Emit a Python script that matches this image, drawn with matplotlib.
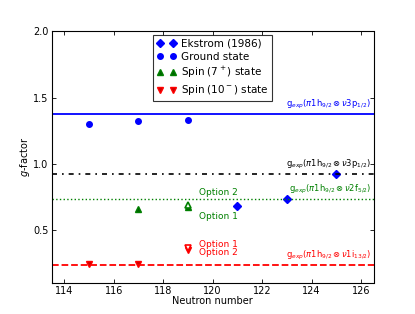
import numpy as np
import matplotlib.pyplot as plt

# =====================================================
# DATA
# =====================================================

ekstrom_n = [121, 123, 125]
ekstrom_g = [0.68, 0.732, 0.922]

ground_n = [115, 117, 119]
ground_g = [1.30, 1.32, 1.333]

spin7_n = [117, 119]
spin7_g = [0.66, 0.675]
spin7_open_n = [119]
spin7_open_g = [0.69]

spin10_n = [115, 117, 119]
spin10_g = [0.24, 0.24, 0.35]
spin10_open_n = [119]
spin10_open_g = [0.36]

g_p12 = 1.376
g_p12_ekstrom = 0.922
g_f52 = 0.732
g_i132 = 0.235

# =====================================================
# FIGURE
# =====================================================

plt.rcParams["font.size"] = 7
plt.rcParams["xtick.direction"] = "in"
plt.rcParams["ytick.direction"] = "in"
plt.rcParams["xtick.top"] = True
plt.rcParams["ytick.right"] = True

fig = plt.figure(figsize=(4.15, 3.14), dpi=100)
ax = fig.add_subplot(111)
fig.subplots_adjust(left=0.125, right=0.9, bottom=0.1, top=0.9)

ax.plot(ekstrom_n, ekstrom_g, "D", color="blue", ms=4,
        mec="blue", label="Ekstrom (1986)")
ax.plot(ground_n, ground_g, "o", color="blue", ms=4,
        mec="blue", label="Ground state")
ax.plot(spin7_n, spin7_g, "^", color="darkgreen", ms=4,
        mec="green", label="Spin ($7^+$) state")
ax.plot(spin10_n, spin10_g, "v", color="#cc0000", ms=4,
        mec="red", label="Spin ($10^-$) state")
ax.plot(spin7_open_n, spin7_open_g, "^", mfc="white", mec="green",
        mew=1.2, ms=5)
ax.plot(spin10_open_n, spin10_open_g, "v", mfc="white", mec="red",
        mew=1.2, ms=5)

ax.axhline(g_p12, color="blue", lw=1.3, ls="-")
ax.axhline(g_p12_ekstrom, color="black", lw=1.2, ls=(0, (3, 3, 1, 3)))
ax.axhline(g_f52, color="green", lw=1.0, ls=":")
ax.axhline(g_i132, color="red", lw=1.3, ls="--")

ax.text(126.4, g_p12 + 0.02,
        r"g$_{exp}$($\pi$1h$_{9/2}\otimes\nu$3p$_{1/2}$)",
        color="blue", ha="right", va="bottom", fontsize=6)
ax.text(126.4, g_p12_ekstrom + 0.02,
        r"g$_{exp}$($\pi$1h$_{9/2}\otimes\nu$3p$_{1/2}$)",
        color="black", ha="right", va="bottom", fontsize=6)
ax.text(126.4, g_f52 + 0.02,
        r"g$_{exp}$($\pi$1h$_{9/2}\otimes\nu$2f$_{5/2}$)",
        color="green", ha="right", va="bottom", fontsize=6)
ax.text(126.4, g_i132 + 0.02,
        r"g$_{exp}$($\pi$1h$_{9/2}\otimes\nu$1i$_{13/2}$)",
        color="red", ha="right", va="bottom", fontsize=6)

ax.text(119.45, 0.78, "Option 2", color="green", va="center", fontsize=6.5)
ax.text(119.45, 0.60, "Option 1", color="green", va="center", fontsize=6.5)
ax.text(119.45, 0.385, "Option 1", color="red", va="center", fontsize=6.5)
ax.text(119.45, 0.325, "Option 2", color="red", va="center", fontsize=6.5)

ax.set_xlim(113.5, 126.5)
ax.set_ylim(0.1, 2.0)
ax.set_xticks(np.arange(114, 127, 2))
ax.set_yticks([0.5, 1.0, 1.5, 2.0])
ax.tick_params(length=3, width=0.6, pad=2.5)

ax.set_xlabel("Neutron number", labelpad=0)
ax.set_ylabel("$g$-factor", labelpad=1)

leg = ax.legend(loc="upper center", numpoints=2, fancybox=False,
                fontsize=7.5, borderaxespad=0.35, handletextpad=0.5,
                labelspacing=0.3, borderpad=0.35, handlelength=1.8)
leg.get_frame().set_edgecolor("black")
leg.get_frame().set_linewidth(0.8)

fig.savefig("out.png", dpi=100)
